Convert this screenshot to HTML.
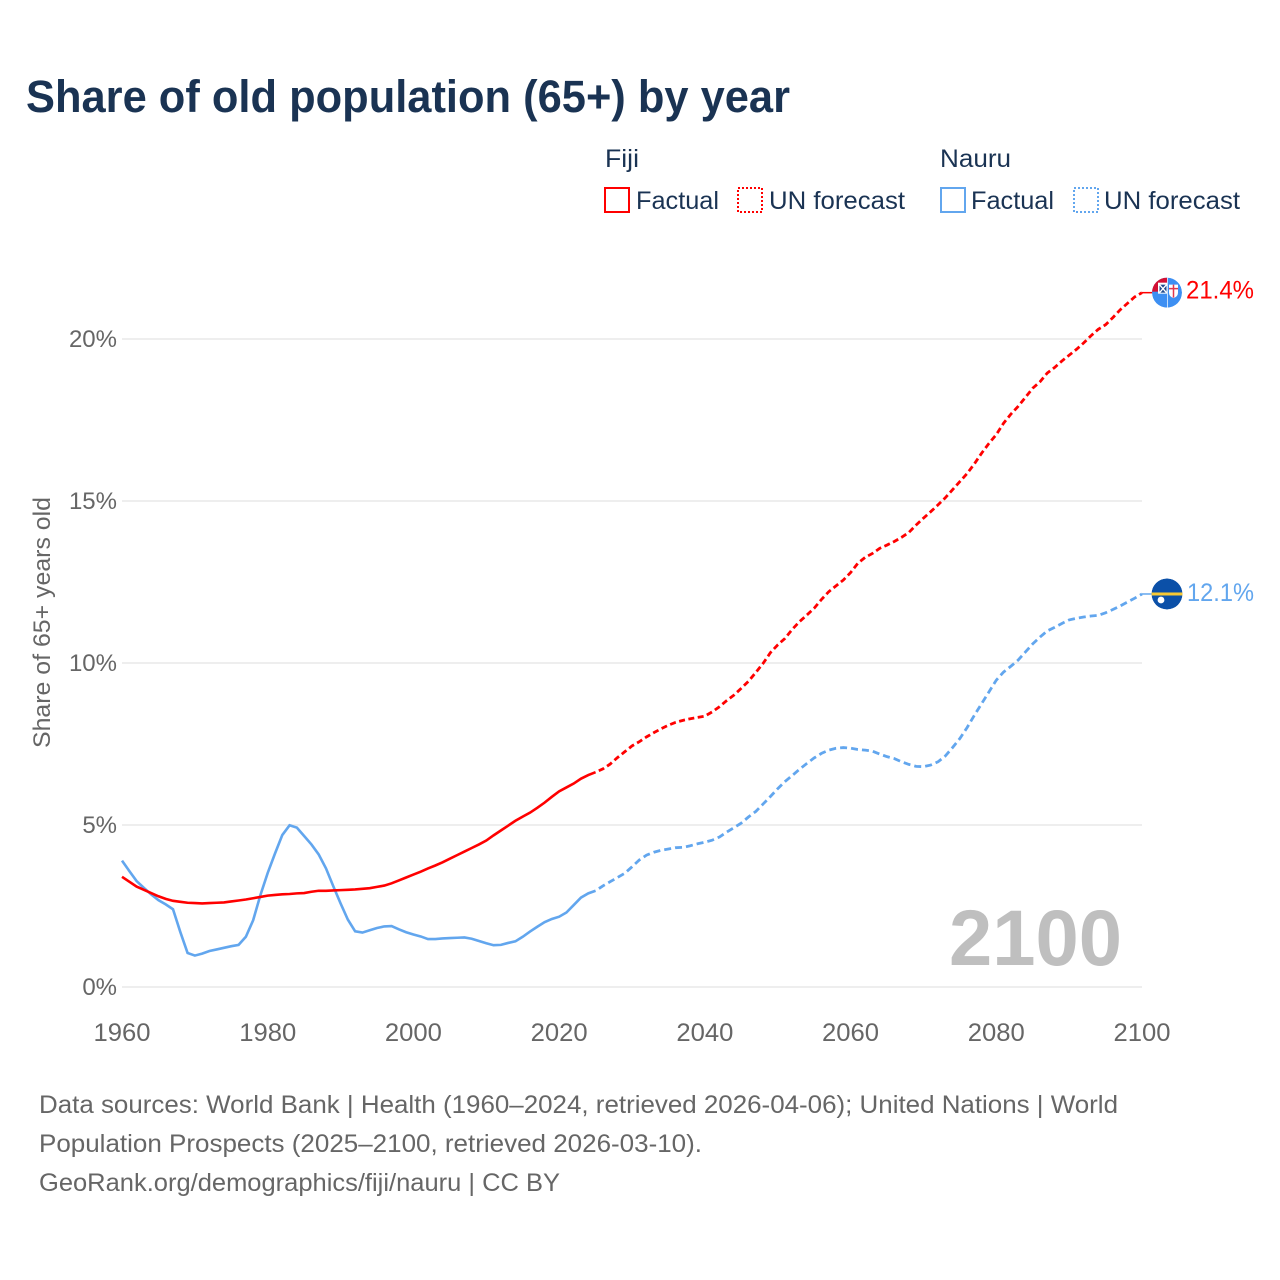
<!DOCTYPE html>
<html lang="en">
<head>
<meta charset="utf-8">
<title>Share of old population (65+) by year</title>
<style>
html,body{margin:0;padding:0;background:#fff;width:1280px;height:1280px;overflow:hidden}
svg{display:block}
text{font-family:"Liberation Sans",sans-serif}
</style>
</head>
<body>
<svg id="chart" xmlns="http://www.w3.org/2000/svg" width="1280" height="1280" viewBox="0 0 1280 1280">
  <defs>
    <clipPath id="fiji-clip"><circle cx="0" cy="0" r="15"/></clipPath>
    <clipPath id="nauru-clip"><circle cx="0" cy="0" r="15.5"/></clipPath>
  </defs>
  <text x="26" y="112" font-size="45" font-weight="700" fill="#1a3353" textLength="764" lengthAdjust="spacingAndGlyphs">Share of old population (65+) by year</text>

  <g>
    <text x="605" y="167" font-size="25" fill="#1a3353" textLength="34" lengthAdjust="spacingAndGlyphs">Fiji</text>
    <rect x="605" y="188" width="24" height="24" fill="none" stroke="#ff0000" stroke-width="2"/>
    <text x="636" y="209" font-size="25" fill="#1a3353" textLength="83" lengthAdjust="spacingAndGlyphs">Factual</text>
    <rect x="738" y="188" width="24" height="24" fill="none" stroke="#ff0000" stroke-width="2" stroke-dasharray="2 2"/>
    <text x="769" y="209" font-size="25" fill="#1a3353" textLength="136" lengthAdjust="spacingAndGlyphs">UN forecast</text>
    <text x="940" y="167" font-size="25" fill="#1a3353" textLength="71" lengthAdjust="spacingAndGlyphs">Nauru</text>
    <rect x="941" y="188" width="24" height="24" fill="none" stroke="#62a6ee" stroke-width="2"/>
    <text x="971" y="209" font-size="25" fill="#1a3353" textLength="83" lengthAdjust="spacingAndGlyphs">Factual</text>
    <rect x="1074" y="188" width="24" height="24" fill="none" stroke="#62a6ee" stroke-width="2" stroke-dasharray="2 2"/>
    <text x="1104" y="209" font-size="25" fill="#1a3353" textLength="136" lengthAdjust="spacingAndGlyphs">UN forecast</text>
  </g>

  <g id="grid"></g>
  <g id="y-ticks"></g>
  <g id="x-ticks"></g>
  <text transform="translate(50,748) rotate(-90)" x="0" y="0" font-size="24" fill="#666666" textLength="251" lengthAdjust="spacingAndGlyphs">Share of 65+ years old</text>
  <text id="year-watermark" x="1122" y="965" text-anchor="end" font-size="79" font-weight="700" fill="#bfbfbf" textLength="173" lengthAdjust="spacingAndGlyphs"></text>

  <g id="series"></g>

  <g id="fiji-end">
    <line id="fiji-connector" x1="0" y1="0" x2="10" y2="0" stroke="#ff0000" stroke-width="1.5"/>
    <g id="fiji-flag" clip-path="url(#fiji-clip)">
      <circle cx="0" cy="0" r="15" fill="#3d8ff2"/>
      <rect x="-15" y="-15" width="15" height="14" fill="#d21034"/>
      <rect x="-9" y="-10" width="9" height="11" fill="#ffffff"/>
      <rect x="-7.5" y="-8" width="7" height="8" fill="#1f4a8c"/>
      <path d="M-7.5 -8 L-0.5 0 M-0.5 -8 L-7.5 0" stroke="#ffffff" stroke-width="1.4"/>
      <rect x="0" y="-15" width="1" height="30" fill="#ffffff" opacity="0.7"/>
      <path d="M2 -8 H11 V0 Q11 4 6.5 5.5 Q2 4 2 0 Z" fill="#ffffff"/>
      <path d="M6.5 -8 V5 M2 -4 H11" stroke="#e0364c" stroke-width="1.5"/>
    </g>
    <text id="fiji-value" x="19" y="6" font-size="25" fill="#ff0000" textLength="68" lengthAdjust="spacingAndGlyphs"></text>
  </g>

  <g id="nauru-end">
    <line id="nauru-connector" x1="0" y1="0" x2="10" y2="0" stroke="#62a6ee" stroke-width="1.5"/>
    <g id="nauru-flag" clip-path="url(#nauru-clip)">
      <circle cx="0" cy="0" r="15.5" fill="#0b50a8"/>
      <rect x="-16" y="-1.5" width="32" height="3" fill="#f7c934"/>
      <circle cx="-6" cy="6" r="3.4" fill="#ffffff"/>
    </g>
    <text id="nauru-value" x="20" y="7" font-size="25" fill="#62a6ee" textLength="67" lengthAdjust="spacingAndGlyphs"></text>
  </g>

  <g font-size="25" fill="#666666">
    <text x="39" y="1113" textLength="1079" lengthAdjust="spacingAndGlyphs">Data sources: World Bank | Health (1960–2024, retrieved 2026-04-06); United Nations | World</text>
    <text x="39" y="1152" textLength="663" lengthAdjust="spacingAndGlyphs">Population Prospects (2025–2100, retrieved 2026-03-10).</text>
    <text x="39" y="1191" textLength="521" lengthAdjust="spacingAndGlyphs">GeoRank.org/demographics/fiji/nauru | CC BY</text>
  </g>
</svg>

<script>
const factualStartYear = 1960;
const forecastStartYear = 2025;
const endYear = 2100;
const yTickValues = [0, 5, 10, 15, 20];
const xTickYears = [1960, 1980, 2000, 2020, 2040, 2060, 2080, 2100];

const fijiFactual = [
  3.40, 3.25, 3.10, 3.00, 2.90, 2.80, 2.72, 2.66, 2.63, 2.60,
  2.59, 2.58, 2.59, 2.60, 2.61, 2.64, 2.67, 2.70, 2.74, 2.78,
  2.82, 2.84, 2.86, 2.87, 2.89, 2.90, 2.94, 2.97, 2.97, 2.98,
  2.99, 3.00, 3.01, 3.03, 3.05, 3.09, 3.13, 3.20, 3.29, 3.38,
  3.47, 3.56, 3.66, 3.75, 3.85, 3.96, 4.07, 4.18, 4.29, 4.40,
  4.52, 4.68, 4.83, 4.98, 5.13, 5.26, 5.38, 5.53, 5.69, 5.87,
  6.04, 6.16, 6.28, 6.43, 6.54, 6.63
];
const fijiForecast = [
  6.63, 6.73, 6.88, 7.08, 7.26, 7.44,
  7.57, 7.72, 7.85, 7.97, 8.08, 8.17, 8.23, 8.28, 8.32, 8.36,
  8.49, 8.65, 8.84, 9.01, 9.22, 9.44, 9.71, 9.99, 10.32, 10.56,
  10.76, 11.04, 11.28, 11.48, 11.69, 11.96, 12.20, 12.38, 12.56, 12.79,
  13.08, 13.26, 13.38, 13.54, 13.64, 13.75, 13.88, 14.03, 14.26, 14.47,
  14.67, 14.88, 15.10, 15.35, 15.60, 15.85, 16.15, 16.48, 16.78, 17.05,
  17.40, 17.68, 17.92, 18.20, 18.48, 18.68, 18.95, 19.12, 19.32, 19.50,
  19.68, 19.88, 20.10, 20.30, 20.44, 20.66, 20.90, 21.10, 21.30, 21.43
];
const nauruFactual = [
  3.90, 3.58, 3.27, 3.06, 2.86, 2.68, 2.55, 2.40, 1.70, 1.05,
  0.97, 1.03, 1.11, 1.16, 1.21, 1.26, 1.30, 1.55, 2.06, 2.84,
  3.52, 4.12, 4.69, 4.99, 4.92, 4.66, 4.40, 4.09, 3.66, 3.11,
  2.58, 2.08, 1.72, 1.68, 1.75, 1.82, 1.87, 1.88, 1.78, 1.69,
  1.62, 1.56, 1.48, 1.48, 1.50, 1.51, 1.52, 1.53, 1.49, 1.42,
  1.35, 1.29, 1.30, 1.36, 1.41, 1.55, 1.71, 1.86, 2.00, 2.10,
  2.17, 2.30, 2.53, 2.76, 2.89, 2.97
];
const nauruForecast = [
  2.97, 3.12, 3.25, 3.38, 3.51, 3.71,
  3.92, 4.07, 4.16, 4.22, 4.26, 4.30, 4.31, 4.36, 4.42, 4.47,
  4.53, 4.63, 4.78, 4.92, 5.06, 5.25, 5.42, 5.65, 5.88, 6.12,
  6.34, 6.53, 6.72, 6.90, 7.07, 7.21, 7.31, 7.37, 7.39, 7.37,
  7.33, 7.31, 7.28, 7.19, 7.11, 7.05, 6.95, 6.87, 6.81, 6.80,
  6.85, 6.95, 7.13, 7.39, 7.67, 8.01, 8.39, 8.75, 9.11, 9.47,
  9.72, 9.90, 10.09, 10.34, 10.59, 10.80, 10.99, 11.10, 11.22, 11.33,
  11.38, 11.42, 11.45, 11.47, 11.55, 11.65, 11.76, 11.88, 12.00, 12.13
];

const SVG_NS = 'http://www.w3.org/2000/svg';
const xScale = year => 122 + (year - 1960) * (1142 - 122) / (2100 - 1960);
const yScale = value => 987 - value * 32.4;

function linePath(values, startYear) {
  return values.map((v, i) =>
    (i ? 'L' : 'M') + xScale(startYear + i).toFixed(2) + ' ' + yScale(v).toFixed(2)
  ).join(' ');
}

const gridLayer = document.getElementById('grid');
const yTickLayer = document.getElementById('y-ticks');
yTickValues.forEach(v => {
  const g = document.createElementNS(SVG_NS, 'line');
  
  
  g.setAttribute('x1', 122);
  g.setAttribute('x2', 1142);
  g.setAttribute('y1', yScale(v));
  g.setAttribute('y2', yScale(v));
  g.setAttribute('stroke', '#eeeeee');
  g.setAttribute('stroke-width', '2');
  gridLayer.appendChild(g);

  const t = document.createElementNS(SVG_NS, 'text');
  
  
  t.setAttribute('x', 117);
  t.setAttribute('y', yScale(v) + 8);
  t.setAttribute('text-anchor', 'end');
  t.setAttribute('font-size', '24');
  t.setAttribute('fill', '#666666');
  t.textContent = v + '%';
  yTickLayer.appendChild(t);
});

const xTickLayer = document.getElementById('x-ticks');
xTickYears.forEach(y => {
  const t = document.createElementNS(SVG_NS, 'text');
  
  
  t.setAttribute('x', xScale(y));
  t.setAttribute('y', 1041);
  t.setAttribute('text-anchor', 'middle');
  t.setAttribute('font-size', '25');
  t.setAttribute('fill', '#666666');
  t.setAttribute('textLength', '57');
  t.setAttribute('lengthAdjust', 'spacingAndGlyphs');
  t.textContent = y;
  xTickLayer.appendChild(t);
});

const seriesLayer = document.getElementById('series');

const nauruFactualLine = document.createElementNS(SVG_NS, 'path');


nauruFactualLine.setAttribute('d', linePath(nauruFactual, factualStartYear));
nauruFactualLine.setAttribute('fill', 'none');
nauruFactualLine.setAttribute('stroke', '#62a6ee');
nauruFactualLine.setAttribute('stroke-width', '2.6');
seriesLayer.appendChild(nauruFactualLine);

const nauruForecastLine = document.createElementNS(SVG_NS, 'path');


nauruForecastLine.setAttribute('d', linePath(nauruForecast, forecastStartYear));
nauruForecastLine.setAttribute('fill', 'none');
nauruForecastLine.setAttribute('stroke', '#62a6ee');
nauruForecastLine.setAttribute('stroke-width', '2.8');
nauruForecastLine.setAttribute('stroke-dasharray', '7 4');
nauruForecastLine.setAttribute('stroke-dashoffset', '7');
seriesLayer.appendChild(nauruForecastLine);

const fijiFactualLine = document.createElementNS(SVG_NS, 'path');


fijiFactualLine.setAttribute('d', linePath(fijiFactual, factualStartYear));
fijiFactualLine.setAttribute('fill', 'none');
fijiFactualLine.setAttribute('stroke', '#ff0000');
fijiFactualLine.setAttribute('stroke-width', '2.6');
seriesLayer.appendChild(fijiFactualLine);

const fijiForecastLine = document.createElementNS(SVG_NS, 'path');


fijiForecastLine.setAttribute('d', linePath(fijiForecast, forecastStartYear));
fijiForecastLine.setAttribute('fill', 'none');
fijiForecastLine.setAttribute('stroke', '#ff0000');
fijiForecastLine.setAttribute('stroke-width', '2.8');
fijiForecastLine.setAttribute('stroke-dasharray', '6 3.5');
fijiForecastLine.setAttribute('stroke-dashoffset', '6');
seriesLayer.appendChild(fijiForecastLine);

function placeEnd(prefix, values) {
  const last = values[values.length - 1];
  const ex = xScale(endYear);
  const ey = yScale(last);
  document.getElementById(prefix + '-end').setAttribute('transform', 'translate(' + (ex + 25) + ' ' + ey + ')');
  const c = document.getElementById(prefix + '-connector');
  c.setAttribute('x1', -25);
  c.setAttribute('x2', -14);
  document.getElementById(prefix + '-value').textContent = last.toFixed(1) + '%';
}
placeEnd('fiji', fijiForecast);
placeEnd('nauru', nauruForecast);

document.getElementById('year-watermark').textContent = endYear;
</script>
</body>
</html>
